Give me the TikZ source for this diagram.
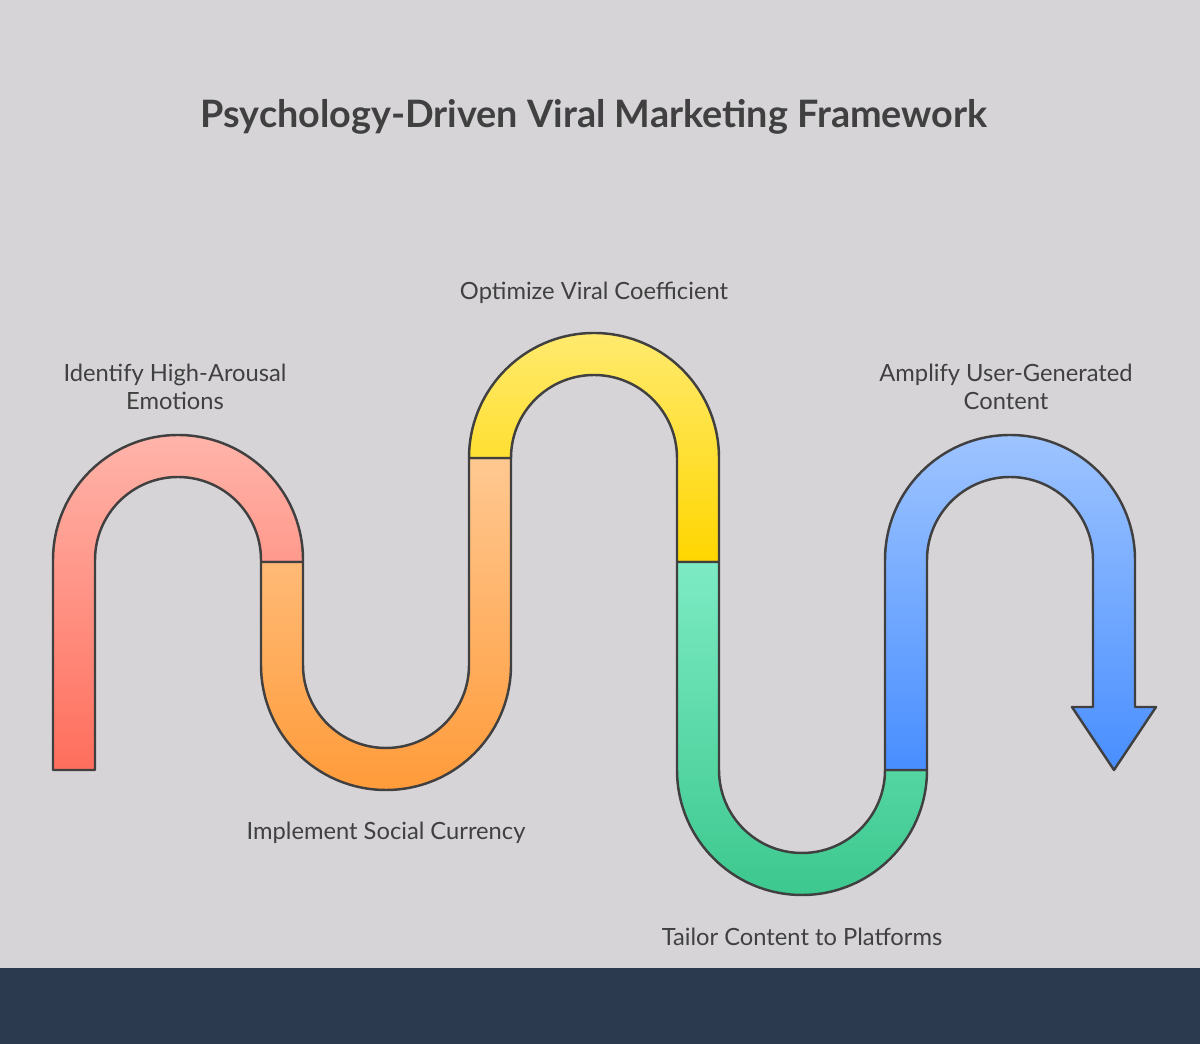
\documentclass[tikz,border=0pt]{standalone}
\usepackage{fontspec}
\setmainfont{Lato}
\begin{document}
\begin{tikzpicture}[x=0.02cm,y=0.02cm,
  tube/.style={draw=black!75,line width=1.4pt,line join=round},
  lbl/.style={text=black!75,font=\fontsize{13.5}{16}\selectfont,align=center}]
\useasboundingbox (0,0) rectangle (1200,1044);
\fill[fill={rgb,255:red,214;green,212;blue,215}] (0,0) rectangle (1200,1044);
\fill[fill={rgb,255:red,44;green,58;blue,80}] (0,0) rectangle (1200,76);
\node[text=black!75,font=\fontsize{21.5}{26}\selectfont\bfseries] (title) at (594,927) {Psychology-Driven Viral Marketing Framework};
% red
\shade[tube,top color={rgb,255:red,255;green,180;blue,170},bottom color={rgb,255:red,255;green,110;blue,92}]
 (53,274) -- (53,484) arc[start angle=180,end angle=0,radius=125] -- (303,482) -- (261,482) -- (261,484) arc[start angle=0,end angle=180,radius=83] -- (95,274) -- cycle;
% orange
\shade[tube,top color={rgb,255:red,255;green,200;blue,145},bottom color={rgb,255:red,255;green,155;blue,58}]
 (261,482) -- (261,379) arc[start angle=180,end angle=360,radius=125] -- (511,586) -- (469,586) -- (469,379) arc[start angle=360,end angle=180,radius=83] -- (303,482) -- cycle;
% yellow
\shade[tube,top color={rgb,255:red,255;green,234;blue,110},bottom color={rgb,255:red,255;green,214;blue,0}]
 (469,586) arc[start angle=180,end angle=0,radius=125] -- (719,482) -- (677,482) -- (677,586) arc[start angle=0,end angle=180,radius=83] -- cycle;
% green
\shade[tube,top color={rgb,255:red,125;green,235;blue,196},bottom color={rgb,255:red,60;green,200;blue,142}]
 (677,482) -- (677,274) arc[start angle=180,end angle=360,radius=125] -- (885,274) arc[start angle=360,end angle=180,radius=83] -- (719,482) -- cycle;
% blue
\shade[tube,top color={rgb,255:red,158;green,196;blue,255},bottom color={rgb,255:red,72;green,142;blue,255}]
 (885,274) -- (885,484) arc[start angle=180,end angle=0,radius=125] -- (1135,337) -- (1156,337) -- (1114,274) -- (1072,337) -- (1093,337) -- (1093,484) arc[start angle=0,end angle=180,radius=83] -- (927,274) -- cycle;
\node[lbl] (l1) at (175,657) {Identify High-Arousal\\Emotions};
\node[lbl] (l2) at (386,211) {Implement Social Currency};
\node[lbl] (l3) at (594,751) {Optimize Viral Coefficient};
\node[lbl] (l4) at (802,107) {Tailor Content to Platforms};
\node[lbl] (l5) at (1006,657) {Amplify User-Generated\\Content};
\end{tikzpicture}
\end{document}
